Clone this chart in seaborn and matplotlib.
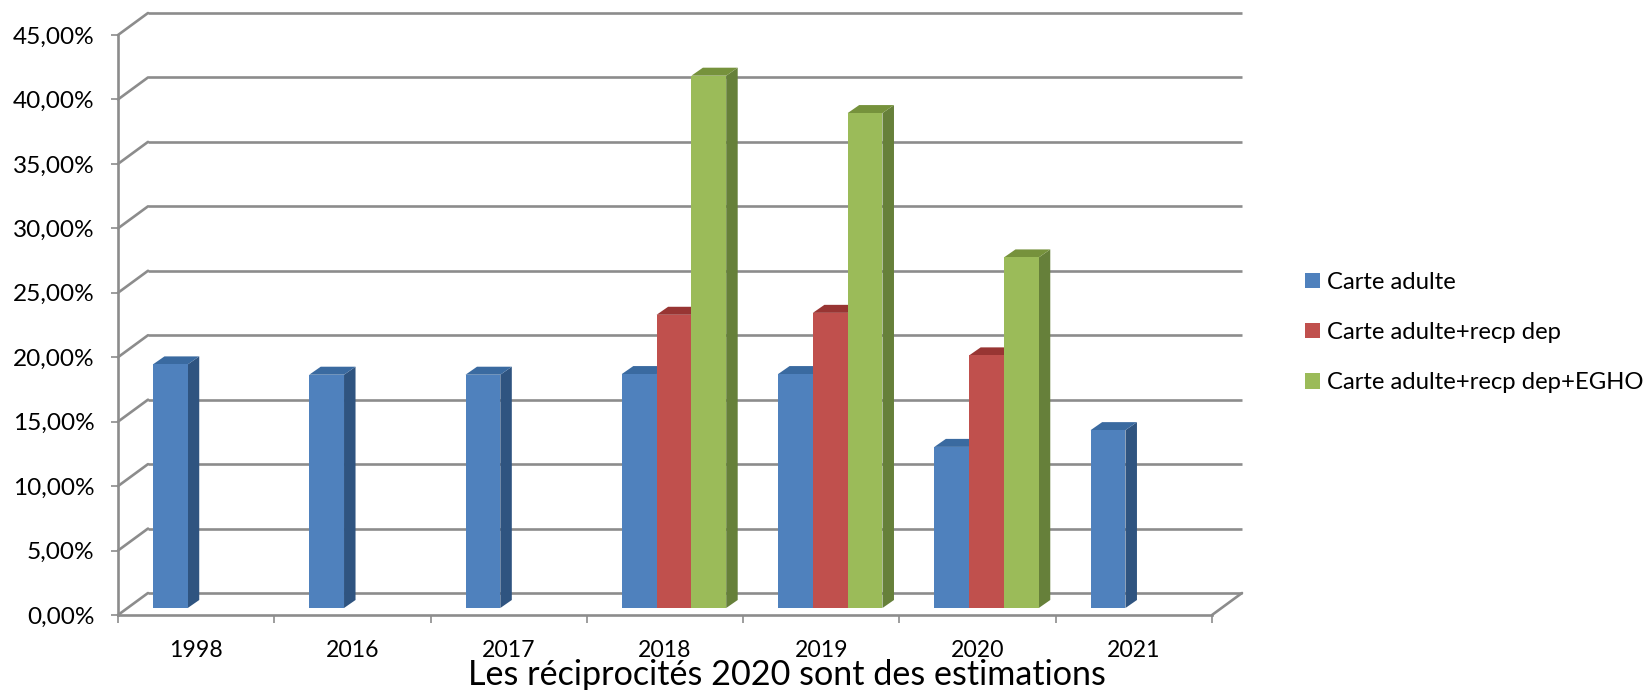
import matplotlib
matplotlib.use("Agg")
import matplotlib.pyplot as plt
import numpy as np
import pandas as pd
import seaborn as sns
from matplotlib.patches import Polygon
from matplotlib.transforms import Affine2D, IdentityTransform

years = ["1998", "2016", "2017", "2018", "2019", "2020", "2021"]
carte_adulte = [18.9, 18.1, 18.1, 18.15, 18.15, 12.5, 13.8]
carte_recp = [np.nan, np.nan, np.nan, 22.75, 22.9, 19.6, np.nan]
carte_recp_egho = [np.nan, np.nan, np.nan, 41.3, 38.4, 27.2, np.nan]
series_names = ["Carte adulte", "Carte adulte+recp dep", "Carte adulte+recp dep+EGHO"]
y_ticks = [0, 5, 10, 15, 20, 25, 30, 35, 40, 45]

front_colors = ["#4F81BD", "#C0504D", "#9BBB59"]
side_colors = ["#2F5480", "#8C3836", "#66803A"]
top_colors = ["#3A6AA0", "#983533", "#76923C"]
grey = "#8C8C8C"

W, H = 1647, 690

sns.set_theme(style="white")
plt.rcParams["font.family"] = ["Lato", "DejaVu Sans"]

df = pd.DataFrame({"year": years, series_names[0]: carte_adulte,
                   series_names[1]: carte_recp, series_names[2]: carte_recp_egho})
df = df.melt(id_vars="year", var_name="serie", value_name="value")

fig = plt.figure(figsize=(W / 100, H / 100), dpi=100)
# axes box in pixels: x 118-1212, y 35-615 from the top
ax = fig.add_axes([118 / W, 1 - 615 / H, (1212 - 118) / W, (615 - 35) / H])
sns.barplot(data=df, x="year", y="value", hue="serie", hue_order=series_names,
            palette=front_colors, width=0.668, gap=0, saturation=1, ax=ax,
            legend=False, errorbar=None, edgecolor="none", linewidth=0)
ax.set_xlim(-0.5, 6.5)
ax.set_ylim(0, 45)
ax.patch.set_alpha(0)

# back wall, shifted up and right like excel's 3d charts
back = ax.transData + Affine2D().translate(30, 22)
ax.hlines(y_ticks, -0.5, 6.5, color=grey, lw=1.9, transform=back, clip_on=False, zorder=0.5)
for v in y_ticks:
    p0 = ax.transData.transform((-0.5, v))
    ax.plot([p0[0], p0[0] + 30], [p0[1], p0[1] + 22], color=grey, lw=1.9,
            transform=IdentityTransform(), clip_on=False, zorder=0.5)
p1 = ax.transData.transform((6.5, 0))
ax.plot([p1[0], p1[0] + 30], [p1[1], p1[1] + 22], color=grey, lw=1.9,
        transform=IdentityTransform(), clip_on=False, zorder=0.5)

# bars sit a little behind the front plane, then get a side and a top face
shift_x, shift_y = 9, 7
bar_shift = Affine2D().translate(shift_x, shift_y)
dx, dy = 11.5, 8
for i, container in enumerate(ax.containers):
    for bar in container:
        h = bar.get_height()
        if np.isnan(h) or h == 0:
            continue
        x0, y0 = ax.transData.transform((bar.get_x(), 0)) + (shift_x, shift_y)
        x1, y1 = ax.transData.transform((bar.get_x() + bar.get_width(), h)) + (shift_x, shift_y)
        z = 2 + i * 3
        ax.add_patch(Polygon([(x1, y0), (x1 + dx, y0 + dy), (x1 + dx, y1 + dy), (x1, y1)],
                             closed=True, fc=side_colors[i], ec="none",
                             transform=IdentityTransform(), clip_on=False, zorder=z))
        ax.add_patch(Polygon([(x0, y1), (x0 + dx, y1 + dy), (x1 + dx, y1 + dy), (x1, y1)],
                             closed=True, fc=top_colors[i], ec="none",
                             transform=IdentityTransform(), clip_on=False, zorder=z))
        bar.set_transform(ax.transData + bar_shift)
        bar.set_clip_on(False)
        bar.set_zorder(z + 1)

sns.despine(ax=ax)
for side in ["left", "bottom"]:
    ax.spines[side].set_color(grey)
    ax.spines[side].set_linewidth(1.9)

ax.set_yticks(y_ticks)
ax.set_yticklabels([f"{v:.2f}".replace(".", ",") + "%" for v in y_ticks])
ax.set_xticks(np.arange(-0.5, 7, 1))
ax.set_xticklabels([])
ax.set_xticks(np.arange(7), labels=years, minor=True)
ax.tick_params(axis="y", which="major", left=True, length=5, width=1.2, color=grey,
               labelsize=17.6, labelcolor="black", pad=12)
ax.tick_params(axis="x", which="major", bottom=True, length=5.5, width=1.2, color=grey)
ax.tick_params(axis="x", which="minor", bottom=False, length=0, labelsize=16.6,
               labelcolor="black", pad=18)
ax.set_xlabel("")
ax.set_ylabel("")

handles = [plt.Rectangle((0, 0), 1, 1, fc=c, ec="none") for c in front_colors]
fig.legend(handles, series_names, loc="center left", bbox_to_anchor=(1305 / W, 1 - 332.5 / H),
           frameon=False, fontsize=17.2, handlelength=0.63, handleheight=0.63,
           handletextpad=0.3, labelspacing=1.22, borderpad=0, borderaxespad=0,
           labelcolor="black")

fig.text(787 / W, 1 - 675 / H, "Les réciprocités 2020 sont des estimations",
         ha="center", va="center", fontsize=24.6, color="black")

fig.savefig("out.png", dpi=100, facecolor="white")
